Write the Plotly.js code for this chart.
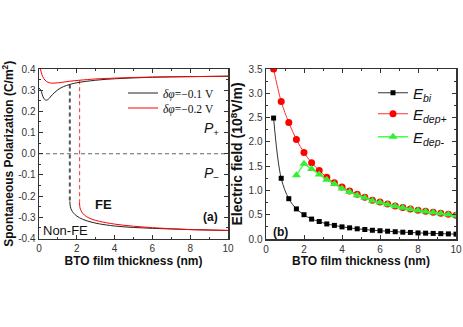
<!DOCTYPE html>
<html>
<head>
<meta charset="utf-8">
<script src="https://cdn.plot.ly/plotly-3.0.1.min.js"></script>
<style>
  html, body { margin: 0; padding: 0; background: #fff; }
  #plot { width: 463px; height: 327px; }
</style>
</head>
<body>
<div id="plot"></div>
<script>
// (a) polarization branches
const blackUpX = [0, 0.1, 0.2, 0.3, 0.4, 0.5, 0.7, 1.0, 1.3, 1.63, 2, 3, 4, 5, 6, 7, 8, 9, 10];
const blackUpY = [0.31, 0.30, 0.272, 0.256, 0.253, 0.258, 0.278, 0.302, 0.317, 0.327, 0.335, 0.347, 0.354, 0.358, 0.361, 0.363, 0.364, 0.365, 0.366];
const blackLowX = [1.63, 1.66, 1.72, 1.82, 2.0, 2.3, 2.7, 3.2, 4, 5, 6, 7, 8, 9, 10];
const blackLowY = [-0.225, -0.25, -0.265, -0.279, -0.294, -0.309, -0.321, -0.331, -0.341, -0.348, -0.352, -0.355, -0.358, -0.36, -0.362];
const redUpX = [0.08, 0.15, 0.25, 0.4, 0.55, 0.7, 0.9, 1.2, 1.6, 2.15, 3, 4, 5, 6, 7, 8, 9, 10];
const redUpY = [0.4, 0.375, 0.355, 0.341, 0.335, 0.333, 0.334, 0.337, 0.342, 0.347, 0.353, 0.357, 0.36, 0.362, 0.363, 0.364, 0.365, 0.366];
const redLowX = [2.14, 2.17, 2.22, 2.32, 2.5, 2.8, 3.2, 4, 5, 6, 7, 8, 9, 10];
const redLowY = [-0.23, -0.255, -0.268, -0.282, -0.296, -0.309, -0.319, -0.332, -0.342, -0.349, -0.354, -0.358, -0.36, -0.362];
const blackJumpX = [1.63, 1.63];
const blackJumpY = [0.327, -0.225];
const redJumpX = [2.15, 2.15];
const redJumpY = [0.347, -0.23];
const zeroX = [0, 10];
const zeroY = [0, 0];

const leftTickVals = [-0.4, -0.3, -0.2, -0.1, 0, 0.1, 0.2, 0.3, 0.4];
const leftTickText = ['-0.4', '-0.3', '-0.2', '-0.1', '0.0', '0.1', '0.2', '0.3', '0.4'];

// (b) fields
const thick = [0.4, 0.8, 1.2, 1.6, 2.0, 2.4, 2.8, 3.2, 3.6, 4.0, 4.4, 4.8, 5.2, 5.6, 6.0, 6.4, 6.8, 7.2, 7.6, 8.0, 8.4, 8.8, 9.2, 9.6, 10.0];
const eBi = [2.49, 1.25, 0.83, 0.62, 0.50, 0.41, 0.36, 0.31, 0.28, 0.25, 0.23, 0.21, 0.195, 0.18, 0.17, 0.16, 0.15, 0.14, 0.135, 0.125, 0.12, 0.115, 0.11, 0.105, 0.10];
const eDepPlus = [3.5, 2.83, 2.40, 2.05, 1.78, 1.57, 1.41, 1.27, 1.16, 1.07, 0.99, 0.92, 0.86, 0.80, 0.76, 0.72, 0.68, 0.65, 0.62, 0.59, 0.57, 0.55, 0.53, 0.51, 0.49];
const thickMinus = [1.6, 2.0, 2.4, 2.8, 3.2, 3.6, 4.0, 4.4, 4.8, 5.2, 5.6, 6.0, 6.4, 6.8, 7.2, 7.6, 8.0, 8.4, 8.8, 9.2, 9.6, 10.0];
const eDepMinus = [1.31, 1.55, 1.44, 1.33, 1.22, 1.13, 1.04, 0.97, 0.90, 0.85, 0.79, 0.75, 0.71, 0.675, 0.645, 0.615, 0.585, 0.565, 0.545, 0.525, 0.505, 0.485];

const sans = 'Arial, "Liberation Sans", sans-serif';
const serif = '"Times New Roman", "Liberation Serif", serif';
const axisColor = '#333';

function baseAxis(extra) {
    return Object.assign({
        showgrid: false,
        zeroline: false,
        showline: true,
        linecolor: axisColor,
        linewidth: 1.5,
        mirror: 'ticks',
        ticks: 'inside',
        ticklen: 4,
        tickwidth: 1,
        tickcolor: axisColor,
        tickfont: { family: sans, size: 10, color: '#333' },
        automargin: false
    }, extra);
}

// one legend box per entry so each row sits where the reference has it
function legendAt(px, py, font) {
    return {
        x: px / 463, y: 1 - py / 327, xanchor: 'left', yanchor: 'middle',
        bgcolor: 'rgba(0,0,0,0)', borderwidth: 0, font: font
    };
}

const traces = [
    { x: zeroX, y: zeroY, mode: 'lines', line: { color: '#666', width: 1, dash: '4px,3px' }, showlegend: false, hoverinfo: 'skip' },
    { x: blackJumpX, y: blackJumpY, mode: 'lines', line: { color: '#555', width: 2, dash: '4px,3px' }, showlegend: false },
    { x: redJumpX, y: redJumpY, mode: 'lines', line: { color: '#ff3030', width: 1, dash: '4px,3px' }, showlegend: false },
    { x: blackUpX, y: blackUpY, mode: 'lines', name: '<i>δφ</i>=−0.1 V', legend: 'legend',
      line: { color: '#222', width: 1, shape: 'spline' } },
    { x: blackLowX, y: blackLowY, mode: 'lines', line: { color: '#222', width: 1, shape: 'spline' }, showlegend: false },
    { x: redUpX, y: redUpY, mode: 'lines', name: '<i>δφ</i>=−0.2 V', legend: 'legend3',
      line: { color: '#ff0000', width: 1, shape: 'spline' } },
    { x: redLowX, y: redLowY, mode: 'lines', line: { color: '#ff0000', width: 1, shape: 'spline' }, showlegend: false },

    { x: thick, y: eBi, xaxis: 'x2', yaxis: 'y2', mode: 'lines+markers', name: '<i>E<sub>bi</sub></i>', legend: 'legend2',
      line: { color: '#333', width: 1, shape: 'spline' }, marker: { symbol: 'square', size: 5, color: '#000' } },
    { x: thick, y: eDepPlus, xaxis: 'x2', yaxis: 'y2', mode: 'lines+markers', name: '<i>E<sub>dep+</sub></i>', legend: 'legend4',
      line: { color: '#ff3030', width: 1, shape: 'spline' }, marker: { symbol: 'circle', size: 7, color: '#ff0000' } },
    { x: thickMinus, y: eDepMinus, xaxis: 'x2', yaxis: 'y2', mode: 'lines+markers', name: '<i>E<sub>dep-</sub></i>', legend: 'legend5',
      line: { color: '#44ff44', width: 1.5 }, marker: { symbol: 'triangle-up', size: 8, color: '#33ee33' } }
];

const legendFontL = { family: serif, size: 11.5, color: '#111' };
const legendFontR = { family: sans, size: 15, color: '#111' };

const layout = {
    width: 463,
    height: 327,
    margin: { l: 0, r: 0, t: 0, b: 0 },
    paper_bgcolor: '#fff',
    plot_bgcolor: '#fff',
    xaxis: baseAxis({
        domain: [39 / 463, 228 / 463], range: [0, 10], dtick: 2, tick0: 0,
        minor: { dtick: 1, ticklen: 2, ticks: 'inside', tickcolor: axisColor },
        title: { text: 'BTO film thickness (nm)', font: { family: sans, size: 12, color: '#111', weight: 'bold' }, standoff: 0 }
    }),
    yaxis: baseAxis({
        domain: [1 - 238.5 / 327, 1 - 69 / 327], range: [-0.4, 0.4],
        tickvals: leftTickVals, ticktext: leftTickText,
        minor: { dtick: 0.05, ticklen: 2, ticks: 'inside', tickcolor: axisColor },
        title: { text: 'Spontaneous Polarization (C/m<sup>2</sup>)', font: { family: sans, size: 12, color: '#111', weight: 'bold' }, standoff: 2 }
    }),
    xaxis2: baseAxis({
        domain: [266 / 463, 456 / 463], range: [0, 10], dtick: 2, tick0: 0, anchor: 'y2',
        minor: { dtick: 1, ticklen: 2, ticks: 'inside', tickcolor: axisColor },
        title: { text: 'BTO film thickness (nm)', font: { family: sans, size: 12, color: '#111', weight: 'bold' }, standoff: 0 }
    }),
    yaxis2: baseAxis({
        domain: [1 - 239 / 327, 1 - 69 / 327], range: [0, 3.5], dtick: 0.5, tickformat: '.1f', anchor: 'x2',
        minor: { dtick: 0.25, ticklen: 2, ticks: 'inside', tickcolor: axisColor },
        title: { text: 'Electric field (10<sup>8</sup>V/m)', font: { family: sans, size: 14, color: '#111', weight: 'bold' }, standoff: 2 }
    }),
    legend: legendAt(123, 93, legendFontL),
    legend3: legendAt(123, 108, legendFontL),
    legend2: legendAt(373, 93, legendFontR),
    legend4: legendAt(373, 114, legendFontR),
    legend5: legendAt(373, 137, legendFontR),
    annotations: [
        { xref: 'x', yref: 'y', x: 8.6, y: 0.115, xanchor: 'left', text: '<i>P</i><sub>+</sub>', showarrow: false, font: { family: sans, size: 14, color: '#111' } },
        { xref: 'x', yref: 'y', x: 8.6, y: -0.097, xanchor: 'left', text: '<i>P</i><sub>−</sub>', showarrow: false, font: { family: sans, size: 14, color: '#111' } },
        { xref: 'x', yref: 'y', x: 3.4, y: -0.24, text: 'FE', showarrow: false, font: { family: sans, size: 13, color: '#111', weight: 'bold' } },
        { xref: 'x', yref: 'y', x: 1.38, y: -0.362, text: 'Non-FE', showarrow: false, font: { family: sans, size: 13, color: '#111' } },
        { xref: 'x', yref: 'y', x: 9.1, y: -0.3, text: '(a)', showarrow: false, font: { family: sans, size: 12, color: '#111', weight: 'bold' } },
        { xref: 'x2', yref: 'y2', x: 0.74, y: 0.15, text: '(b)', showarrow: false, font: { family: sans, size: 12, color: '#111', weight: 'bold' } }
    ]
};

Plotly.newPlot('plot', traces, layout, { displayModeBar: false, staticPlot: true });
</script>
</body>
</html>
